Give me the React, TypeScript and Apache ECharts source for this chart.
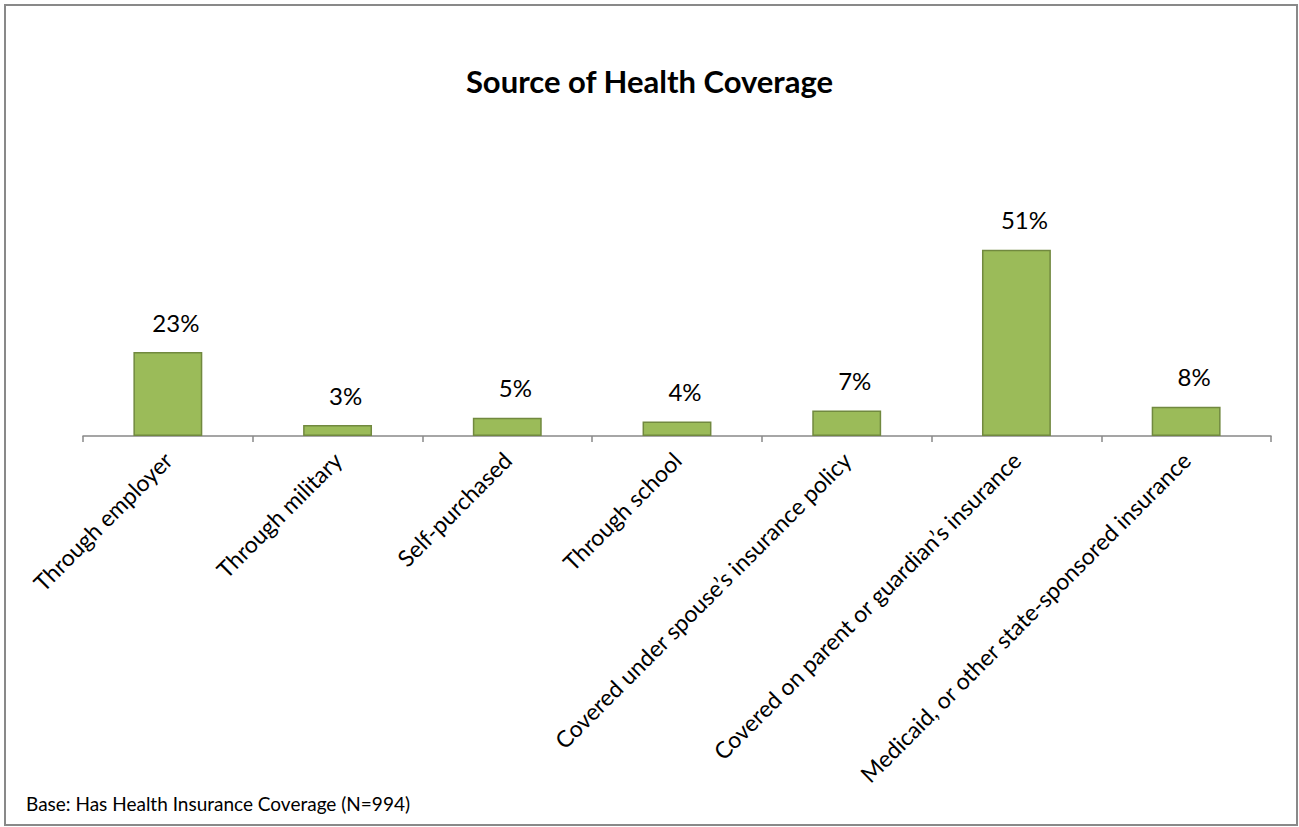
import React, { useEffect, useRef } from "react";
import * as echarts from "echarts";

const categories = [
  "Through employer",
  "Through military",
  "Self-purchased",
  "Through school",
  "Covered under spouse\u2019s insurance policy",
  "Covered on parent or guardian\u2019s insurance",
  "Medicaid, or other state-sponsored insurance",
];
const values = [23, 3, 5, 4, 7, 51, 8];
const titleText = "Source of Health Coverage";
const footnote = "Base: Has Health Insurance Coverage (N=994)";

const FONT = "Lato, 'Open Sans', sans-serif";

export default function App() {
  const ref = useRef<HTMLDivElement>(null);
  useEffect(() => {
    document.body.style.margin = "0";
    const chart = echarts.init(ref.current!, null, { renderer: "svg" });
    chart.setOption({
      animation: false,
      backgroundColor: "#ffffff",
      title: {
        text: titleText,
        left: "center",
        top: 60,
        textStyle: { fontFamily: FONT, fontSize: 31, fontWeight: "bold", color: "#000" },
      },
      graphic: [
        {
          type: "rect",
          shape: { x: 5, y: 5, width: 1292, height: 820 },
          style: { fill: "none", stroke: "#898989", lineWidth: 2 },
          silent: true,
        },
        {
          type: "text",
          left: 26,
          top: 794,
          style: { text: footnote, fontFamily: FONT, fontSize: 19, fill: "#000" },
        },
      ],
      grid: { left: 83, right: 28, top: 217, bottom: 391, containLabel: false },
      xAxis: {
        type: "category",
        data: categories,
        axisLine: { lineStyle: { color: "#888888", width: 1.5 } },
        axisTick: { show: true, length: 6, lineStyle: { color: "#888888", width: 1.5 } },
        axisLabel: {
          rotate: 45,
          interval: 0,
          margin: 20,
          fontFamily: FONT,
          fontSize: 23,
          color: "#000",
        },
      },
      yAxis: {
        type: "value",
        min: 0,
        max: 60,
        show: false,
        splitLine: { show: false },
      },
      series: [
        {
          type: "bar",
          data: values,
          barWidth: "40.6%",
          itemStyle: { color: "#9BBB59", borderColor: "#71893F", borderWidth: 1.5 },
          label: {
            show: true,
            position: "top",
            distance: 18,
            offset: [8, 0],
            formatter: "{c}%",
            fontFamily: FONT,
            fontSize: 24,
            color: "#000",
          },
        },
      ],
    });
    return () => chart.dispose();
  }, []);
  return <div ref={ref} style={{ width: 1299, height: 827 }} />;
}
